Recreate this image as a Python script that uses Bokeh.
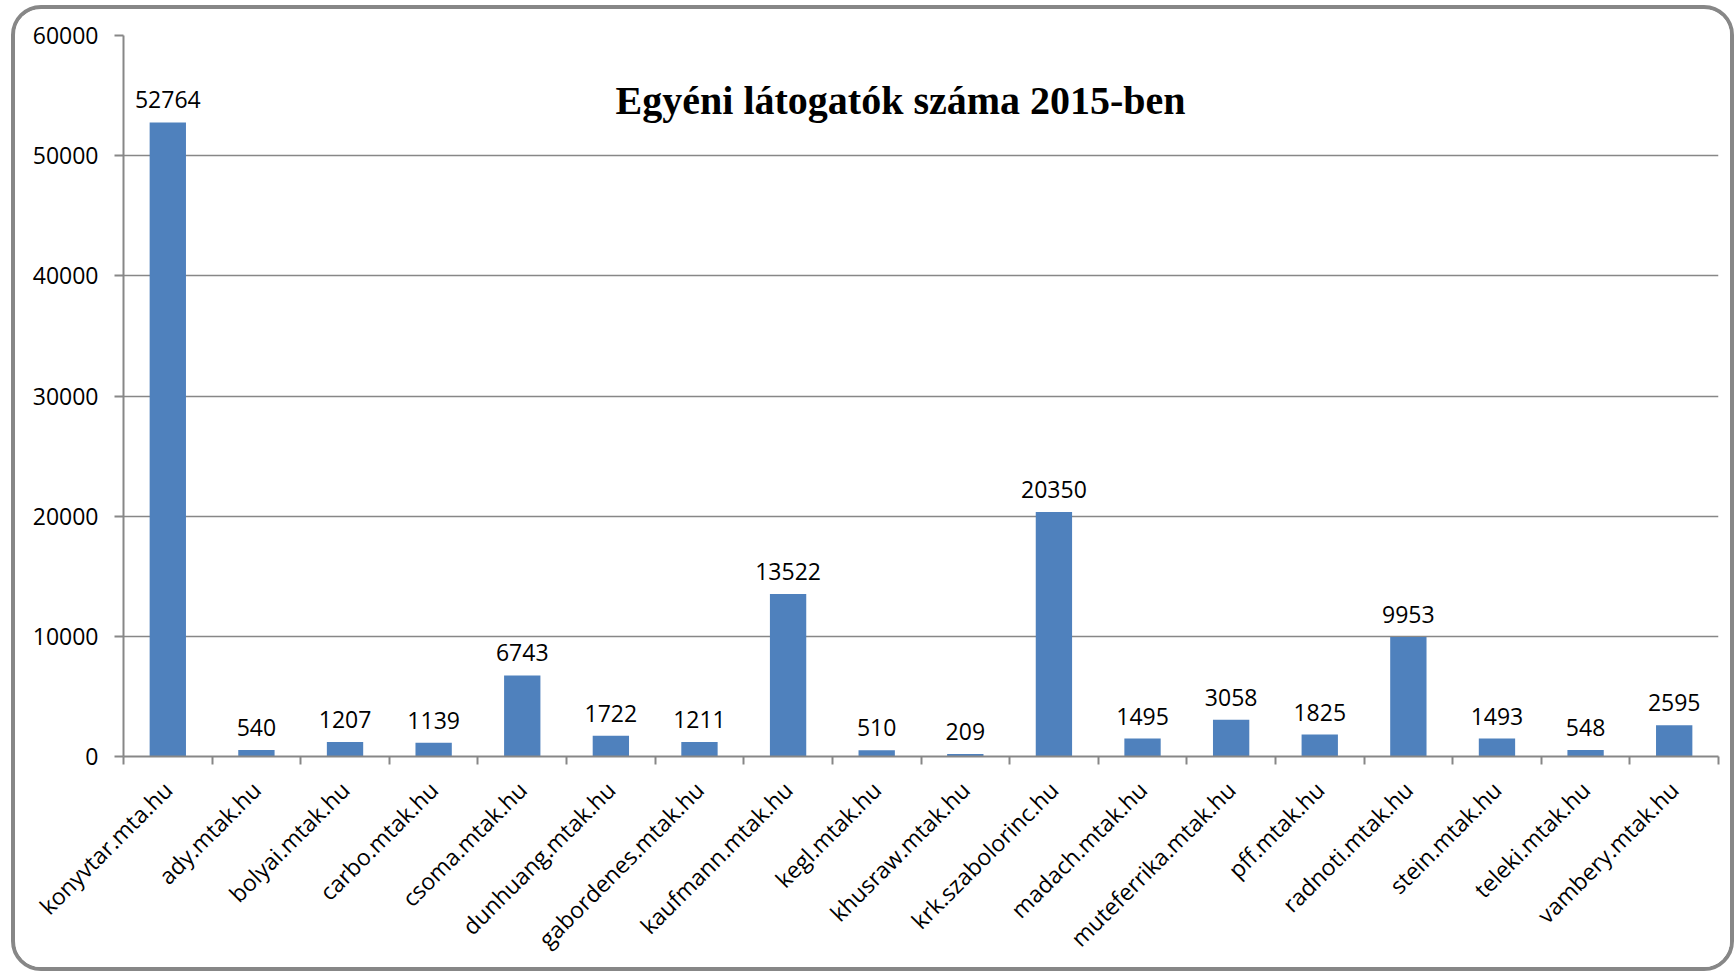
import math
from bokeh.plotting import figure
from bokeh.models import FixedTicker, Label, ColumnDataSource, NumeralTickFormatter
from bokeh.embed import file_html
from bokeh.resources import INLINE
from bokeh.core.properties import value

sites = ["konyvtar.mta.hu", "ady.mtak.hu", "bolyai.mtak.hu", "carbo.mtak.hu", "csoma.mtak.hu",
         "dunhuang.mtak.hu", "gabordenes.mtak.hu", "kaufmann.mtak.hu", "kegl.mtak.hu",
         "khusraw.mtak.hu", "krk.szabolorinc.hu", "madach.mtak.hu", "muteferrika.mtak.hu",
         "pff.mtak.hu", "radnoti.mtak.hu", "stein.mtak.hu", "teleki.mtak.hu", "vambery.mtak.hu"]
visitors = [52764, 540, 1207, 1139, 6743, 1722, 1211, 13522, 510, 209, 20350, 1495, 3058,
            1825, 9953, 1493, 548, 2595]
y_ticks = [0, 10000, 20000, 30000, 40000, 50000, 60000]
title_text = "Egyéni látogatók száma 2015-ben"

GRAY = "#878787"
BAR = "#4F81BD"
n = len(sites)
xc = [i + 0.5 for i in range(n)]
src = ColumnDataSource(dict(x=xc, v=visitors, lab=[str(v) for v in visitors]))

p = figure(width=1723, height=966, x_range=(0, n), y_range=(0, 60000),
           output_backend="svg", toolbar_location=None,
           min_border_left=108, min_border_right=20, min_border_top=26, min_border_bottom=219)
p.outline_line_color = None
p.background_fill_color = "white"
p.border_fill_color = "white"
p.styles = {"border": "4px solid #878787", "border-radius": "30px",
            "margin-left": "11px", "margin-top": "5px", "overflow": "hidden"}

p.vbar(x="x", top="v", width=0.41, source=src, fill_color=BAR, line_color=None)
p.text(x="x", y="v", text="lab", source=src, text_align="center", text_baseline="bottom",
       y_offset=-14, text_font=value("Open Sans"), text_font_size="23px", text_color="black")

p.xgrid.visible = False
p.ygrid.ticker = FixedTicker(ticks=y_ticks)
p.ygrid.grid_line_color = GRAY
p.ygrid.grid_line_width = 1.5

xa = p.xaxis[0]
xa.ticker = FixedTicker(ticks=xc, minor_ticks=list(range(n + 1)))
xa.major_label_overrides = {c: s for c, s in zip(xc, sites)}
xa.major_label_orientation = math.pi / 4
xa.major_tick_line_color = None
xa.major_tick_out = 0
xa.major_tick_in = 0
xa.minor_tick_line_color = GRAY
xa.minor_tick_line_width = 2
xa.minor_tick_out = 8
xa.minor_tick_in = 0
xa.axis_line_color = GRAY
xa.axis_line_width = 2
xa.major_label_text_font = "Open Sans"
xa.major_label_text_font_size = "23px"
xa.major_label_text_color = "black"
xa.major_label_standoff = 21

ya = p.yaxis[0]
ya.ticker = FixedTicker(ticks=y_ticks)
ya.formatter = NumeralTickFormatter(format="0")
ya.major_tick_line_color = GRAY
ya.major_tick_line_width = 2
ya.major_tick_out = 9
ya.major_tick_in = 0
ya.minor_tick_line_color = None
ya.axis_line_color = GRAY
ya.axis_line_width = 2
ya.major_label_text_font = "Open Sans"
ya.major_label_text_font_size = "23px"
ya.major_label_text_color = "black"
ya.major_label_standoff = 16

p.add_layout(Label(x=8.77, y=54550, text=title_text, text_align="center", text_baseline="middle",
                   text_font="Liberation Serif", text_font_style="bold", text_font_size="40px",
                   text_color="black"))

open("out.html", "w").write(file_html(p, INLINE))
